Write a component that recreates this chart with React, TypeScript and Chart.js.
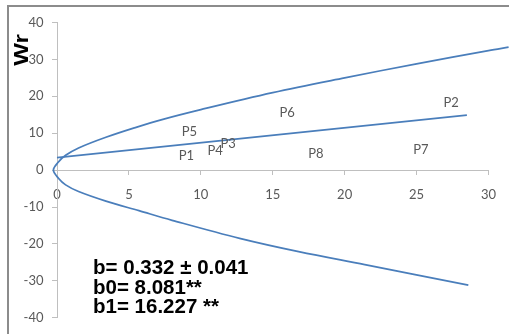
import React, { useEffect, useRef } from "react";
import { Chart, registerables } from "chart.js";

Chart.register(...registerables);

// Upper branch of the limiting parabola (Vr, Wr), starting at the vertex
const upperVr = [-0.25, 0.1, 0.6, 1.5, 3.4, 5.5, 7.3, 10, 15, 20, 25, 30, 31.4];
const upperWr = [0, 2.2, 4.0, 6.0, 8.9, 11.6, 13.7, 16.4, 21.0, 25.0, 28.8, 32.4, 33.3];
// Lower branch (Vr, Wr), from the vertex outward
const lowerVr = [0.1, 0.6, 1.5, 3.4, 5.7, 8.0, 12.7, 16.8, 21.4, 24.9, 28.6];
const lowerWr = [-2.2, -4.0, -5.8, -8.4, -11.0, -13.6, -18.5, -22.1, -25.6, -28.3, -31.2];
// Regression line
const lineVr = [0, 28.5];
const lineWr = [3.4, 14.9];
// Parent labels
const pointNames = ["P1", "P2", "P3", "P4", "P5", "P6", "P7", "P8"];
const pointVr = [9.0, 27.4, 11.9, 11.0, 9.2, 16.0, 25.3, 18.0];
const pointWr = [3.9, 18.3, 7.2, 5.1, 10.3, 15.6, 5.4, 4.3];
// Axes
const xMin = 0;
const xMax = 30;
const xStep = 5;
const yMin = -40;
const yMax = 40;
const yStep = 10;
const yAxisTitle = "Wr";
const statLines = ["b= 0.332 ± 0.041", "b0= 8.081**", "b1= 16.227 **"];

const BLUE = "#4a7ebb";
const TICK_FONT = "Lato, 'Open Sans', sans-serif";

export default function App() {
  const ref = useRef<HTMLCanvasElement | null>(null);

  useEffect(() => {
    if (!ref.current) return;

    const parabola = [
      ...lowerVr.map((x, i) => ({ x, y: lowerWr[i] })).reverse(),
      ...upperVr.map((x, i) => ({ x, y: upperWr[i] })),
    ];
    const line = lineVr.map((x, i) => ({ x, y: lineWr[i] }));
    const pts = pointVr.map((x, i) => ({ x, y: pointWr[i] }));

    const decor = {
      id: "decor",
      beforeDraw(chart: any) {
        const ctx = chart.ctx;
        ctx.save();
        ctx.fillStyle = "#ffffff";
        ctx.fillRect(0, 0, chart.width, chart.height);
        ctx.fillStyle = "#8c8c8c";
        ctx.fillRect(7, 5, 2, chart.height - 5);
        ctx.fillRect(7, 5, chart.width - 7, 2);
        ctx.restore();
      },
      afterDatasetsDraw(chart: any) {
        const ctx = chart.ctx;
        const xs = chart.scales.x;
        const ys = chart.scales.y;
        ctx.save();
        // point labels
        ctx.font = `13px ${TICK_FONT}`;
        ctx.fillStyle = "#595959";
        ctx.textAlign = "center";
        ctx.textBaseline = "middle";
        pointNames.forEach((n, i) => {
          ctx.fillText(n, xs.getPixelForValue(pointVr[i]), ys.getPixelForValue(pointWr[i]));
        });
        // statistics
        ctx.font = "bold 20.5px 'Liberation Sans', Arial, sans-serif";
        ctx.fillStyle = "#000000";
        ctx.textAlign = "left";
        ctx.textBaseline = "alphabetic";
        statLines.forEach((t, i) => {
          ctx.fillText(t, 93, 274 + i * 19.5);
        });
        // y axis title
        ctx.save();
        ctx.translate(28, 50);
        ctx.rotate(-Math.PI / 2);
        ctx.scale(1.2, 1);
        ctx.font = "bold 20px 'Liberation Sans', Arial, sans-serif";
        ctx.textAlign = "center";
        ctx.fillText(yAxisTitle, 0, 0);
        ctx.restore();
        ctx.restore();
      },
    };

    const chart = new Chart(ref.current, {
      type: "scatter",
      data: {
        datasets: [
          {
            data: parabola,
            showLine: true,
            borderColor: BLUE,
            borderWidth: 1.75,
            pointRadius: 0,
            tension: 0.35,
            clip: false as any,
          },
          {
            data: line,
            showLine: true,
            borderColor: BLUE,
            borderWidth: 1.75,
            pointRadius: 0,
            clip: false as any,
          },
          {
            data: pts,
            pointRadius: 0,
            showLine: false,
          },
        ],
      },
      options: {
        responsive: false,
        animation: false,
        layout: { padding: { left: 0, right: 18, top: 22.5, bottom: 11 } },
        plugins: { legend: { display: false }, tooltip: { enabled: false } },
        scales: {
          x: {
            type: "linear",
            position: { y: 0 } as any,
            min: xMin,
            max: xMax,
            ticks: {
              stepSize: xStep,
              color: "#595959",
              font: { family: TICK_FONT, size: 13 },
              padding: 13,
              maxRotation: 0,
            },
            grid: { display: true, drawOnChartArea: false, drawTicks: true, tickLength: 4, color: "#bfbfbf" },
            border: { display: true, color: "#bfbfbf", width: 1 },
          },
          y: {
            type: "linear",
            position: "left",
            min: yMin,
            max: yMax,
            afterFit: (s: any) => {
              s.width = 57;
            },
            ticks: {
              stepSize: yStep,
              color: "#595959",
              font: { family: TICK_FONT, size: 13 },
              padding: 8.5,
            },
            grid: { display: true, drawOnChartArea: false, drawTicks: true, tickLength: 5, color: "#bfbfbf" },
            border: { display: true, color: "#bfbfbf", width: 1 },
          },
        },
      },
      plugins: [decor],
    });
    return () => chart.destroy();
  }, []);

  return (
    <canvas
      ref={ref}
      width={509}
      height={334}
      style={{ position: "fixed", left: 0, top: 0, width: 509, height: 334, display: "block" }}
    />
  );
}
